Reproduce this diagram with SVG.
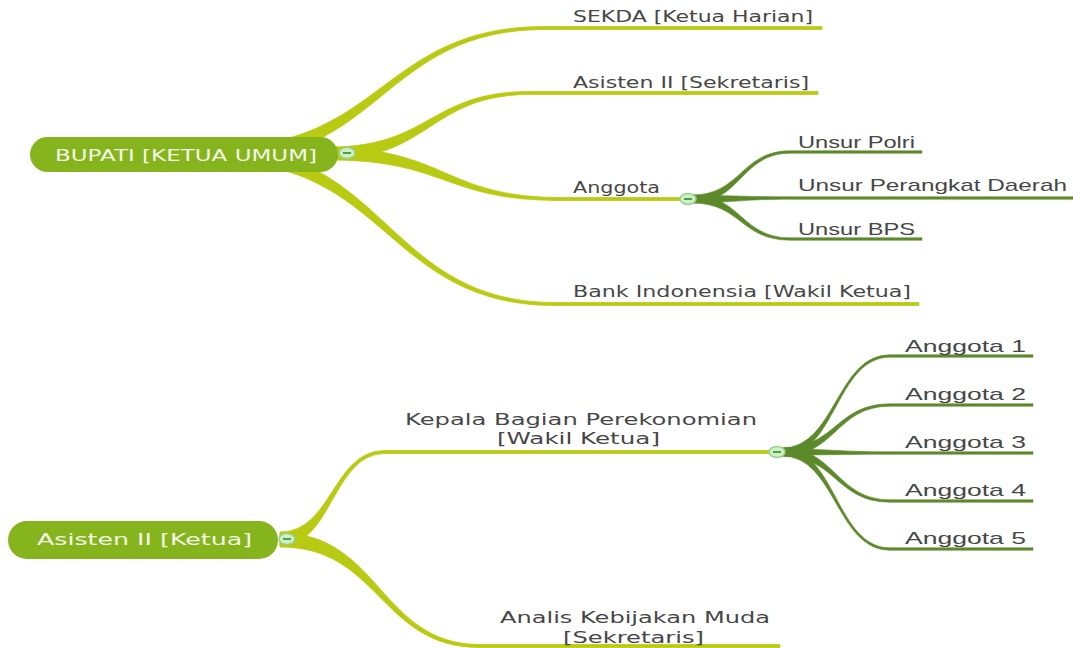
<svg xmlns="http://www.w3.org/2000/svg" width="1073" height="648" viewBox="0 0 1073 648">
<style>
.b1{fill:#b8cb12;stroke:#b8cb12;stroke-width:0.8}
.b2{fill:#5c8a2b;stroke:#5c8a2b;stroke-width:0.6}
.pill{fill:#86b41c}
.root{font-family:"DejaVu Sans",Verdana,sans-serif;font-size:15px;fill:#f3f8e6}
.l1{font-family:"DejaVu Sans",Verdana,sans-serif;font-size:16px;fill:#474747}
.l2{font-family:"Liberation Sans",Arial,sans-serif;font-size:17px;fill:#474747}
.tog ellipse{fill:#d2eec6;stroke:#95d08c;stroke-width:1.5}
.tog line{stroke:#45a545;stroke-width:2}
</style>
<rect width="1073" height="648" fill="#ffffff"/>
<g id="connectors">
<path class="b1" d="M220,147 C382.5,147 382.5,26.5 545,26.5 L822,26.5 L822,29.5 L545,29.5 C382.5,29.5 382.5,161 220,161 Z"/>
<path class="b1" d="M330,147 C430,147 430,91.5 530,91.5 L818,91.5 L818,94.5 L530,94.5 C430,94.5 430,159 330,159 Z"/>
<path class="b1" d="M330,148 C445,148 445,197.5 560,197.5 L682,197.5 L682,200.5 L560,200.5 C445,200.5 445,160 330,160 Z"/>
<path class="b1" d="M220,148 C387.5,148 387.5,302.5 555,302.5 L919,302.5 L919,305.5 L555,305.5 C387.5,305.5 387.5,162 220,162 Z"/>
<path class="b2" d="M692,195 C741,195 741,150.8 790,150.8 L922,150.8 L922,153.2 L790,153.2 C741,153.2 741,203 692,203 Z"/>
<path class="b2" d="M692,195.5 C741,195.5 741,196.8 790,196.8 L1073,196.8 L1073,199.2 L790,199.2 C741,199.2 741,202.5 692,202.5 Z"/>
<path class="b2" d="M692,195 C741,195 741,237.8 790,237.8 L922,237.8 L922,240.2 L790,240.2 C741,240.2 741,203 692,203 Z"/>
<path class="b1" d="M280,532 C332.5,532 332.5,450.5 385,450.5 L772,450.5 L772,453.5 L385,453.5 C332.5,453.5 332.5,546 280,546 Z"/>
<path class="b1" d="M280,533 C380,533 380,644.5 480,644.5 L780,644.5 L780,647.5 L480,647.5 C380,647.5 380,547 280,547 Z"/>
<path class="b2" d="M782,448 C836,448 836,354.8 890,354.8 L1033,354.8 L1033,357.2 L890,357.2 C836,357.2 836,456 782,456 Z"/>
<path class="b2" d="M782,448 C836,448 836,403.8 890,403.8 L1033,403.8 L1033,406.2 L890,406.2 C836,406.2 836,456 782,456 Z"/>
<path class="b2" d="M782,449 C836,449 836,451.8 890,451.8 L1033,451.8 L1033,454.2 L890,454.2 C836,454.2 836,455 782,455 Z"/>
<path class="b2" d="M782,448 C836,448 836,499.8 890,499.8 L1033,499.8 L1033,502.2 L890,502.2 C836,502.2 836,456 782,456 Z"/>
<path class="b2" d="M782,448 C836,448 836,547.8 890,547.8 L1033,547.8 L1033,550.2 L890,550.2 C836,550.2 836,456 782,456 Z"/>
</g>
<g id="bupati">
<rect class="pill" x="30" y="137" width="308" height="35" rx="17.5"/>
<text class="root" x="55" y="161" textLength="262" lengthAdjust="spacingAndGlyphs">BUPATI [KETUA UMUM]</text>
<g class="tog"><ellipse cx="347" cy="153" rx="8" ry="5.5"/><line x1="343" y1="153" x2="351" y2="153"/></g>
</g>
<g id="sekda"><text class="l1" x="573" y="22" textLength="240" lengthAdjust="spacingAndGlyphs">SEKDA [Ketua Harian]</text></g>
<g id="asisten-sekretaris"><text class="l1" x="573" y="88" textLength="236" lengthAdjust="spacingAndGlyphs">Asisten II [Sekretaris]</text></g>
<g id="anggota">
<text class="l1" x="573" y="193" textLength="87" lengthAdjust="spacingAndGlyphs">Anggota</text>
<g class="tog"><ellipse cx="688" cy="199" rx="8" ry="5.5"/><line x1="684" y1="199" x2="692" y2="199"/></g>
</g>
<g id="bank"><text class="l1" x="573" y="297" textLength="338" lengthAdjust="spacingAndGlyphs">Bank Indonensia [Wakil Ketua]</text></g>
<g id="unsur-polri"><text class="l2" x="798" y="148" textLength="117" lengthAdjust="spacingAndGlyphs">Unsur Polri</text></g>
<g id="unsur-perangkat"><text class="l2" x="798" y="191" textLength="269" lengthAdjust="spacingAndGlyphs">Unsur Perangkat Daerah</text></g>
<g id="unsur-bps"><text class="l2" x="798" y="235" textLength="117" lengthAdjust="spacingAndGlyphs">Unsur BPS</text></g>
<g id="asisten-ketua">
<rect class="pill" x="8" y="521" width="270" height="38" rx="19"/>
<text class="root" x="37" y="545" textLength="215" lengthAdjust="spacingAndGlyphs">Asisten II [Ketua]</text>
<g class="tog"><ellipse cx="287" cy="539" rx="8" ry="5.5"/><line x1="283" y1="539" x2="291" y2="539"/></g>
</g>
<g id="kepala">
<text class="l1" x="405" y="425" textLength="352" lengthAdjust="spacingAndGlyphs">Kepala Bagian Perekonomian</text>
<text class="l1" x="497" y="444" textLength="163" lengthAdjust="spacingAndGlyphs">[Wakil Ketua]</text>
<g class="tog"><ellipse cx="777" cy="452" rx="8" ry="5.5"/><line x1="773" y1="452" x2="781" y2="452"/></g>
</g>
<g id="analis">
<text class="l1" x="500" y="623" textLength="270" lengthAdjust="spacingAndGlyphs">Analis Kebijakan Muda</text>
<text class="l1" x="563" y="643" textLength="141" lengthAdjust="spacingAndGlyphs">[Sekretaris]</text>
</g>
<g id="anggota1"><text class="l2" x="905" y="352" textLength="121" lengthAdjust="spacingAndGlyphs">Anggota 1</text></g>
<g id="anggota2"><text class="l2" x="905" y="400" textLength="121" lengthAdjust="spacingAndGlyphs">Anggota 2</text></g>
<g id="anggota3"><text class="l2" x="905" y="448" textLength="121" lengthAdjust="spacingAndGlyphs">Anggota 3</text></g>
<g id="anggota4"><text class="l2" x="905" y="496" textLength="121" lengthAdjust="spacingAndGlyphs">Anggota 4</text></g>
<g id="anggota5"><text class="l2" x="905" y="544" textLength="121" lengthAdjust="spacingAndGlyphs">Anggota 5</text></g>
</svg>
